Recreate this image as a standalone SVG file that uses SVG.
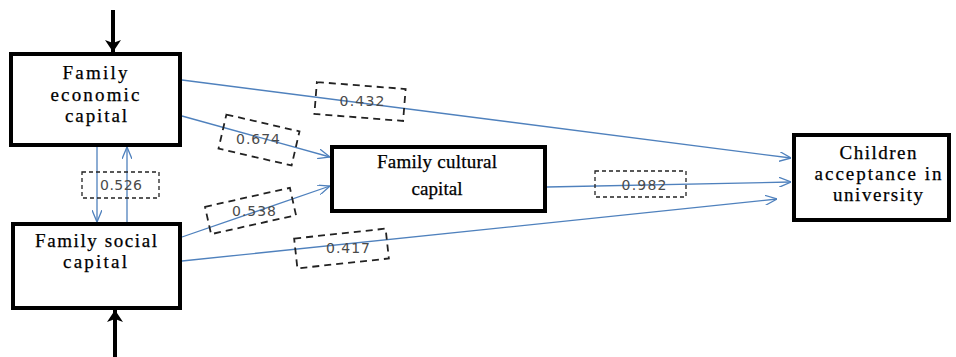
<svg xmlns="http://www.w3.org/2000/svg" width="956" height="357" viewBox="0 0 956 357">
<style>
.box{fill:#fff;stroke:#000;stroke-width:4}
.lbl{font-family:"Liberation Serif","Times New Roman",serif;font-size:19px;fill:#000;stroke:#000;stroke-width:0.25;text-anchor:middle}
.num{font-family:"DejaVu Sans",Verdana,sans-serif;font-size:14px;fill:#4a4a4a;text-anchor:middle}
.dash{fill:none;stroke:#222;stroke-width:1.8;stroke-dasharray:7 5}
.dash2{fill:none;stroke:#222;stroke-width:1.3;stroke-dasharray:4 3}
.blue{fill:none;stroke:#4F81BD;stroke-width:1.3}
.blk{fill:none;stroke:#000;stroke-width:4}
</style>
<defs>
<marker id="oa" viewBox="0 0 12 10" refX="12" refY="5" markerWidth="12" markerHeight="10" orient="auto" markerUnits="userSpaceOnUse">
<path d="M0,0 L12,5 L0,10" fill="none" stroke="#4F81BD" stroke-width="1.3"/>
</marker>
<marker id="ba" viewBox="0 0 12 16" refX="12" refY="8" markerWidth="12" markerHeight="16" orient="auto" markerUnits="userSpaceOnUse">
<path d="M0,0 L12,8 L0,16 L3,8z" fill="#000"/>
</marker>
</defs>
<g id="connectors">
<line class="blk" x1="113" y1="10" x2="113" y2="52" marker-end="url(#ba)"/>
<line class="blk" x1="115" y1="357" x2="115" y2="310" marker-end="url(#ba)"/>
<line class="blue" x1="97" y1="147" x2="97" y2="222" marker-end="url(#oa)"/>
<line class="blue" x1="127" y1="222" x2="127" y2="147" marker-end="url(#oa)"/>
<line class="blue" x1="182" y1="80" x2="791" y2="158" marker-end="url(#oa)"/>
<line class="blue" x1="182" y1="116" x2="330" y2="157" marker-end="url(#oa)"/>
<line class="blue" x1="182" y1="237" x2="330" y2="186" marker-end="url(#oa)"/>
<line class="blue" x1="182" y1="261" x2="777" y2="199" marker-end="url(#oa)"/>
<line class="blue" x1="547" y1="187" x2="791" y2="182" marker-end="url(#oa)"/>
</g>
<g id="lbl-0526">
<rect class="dash2" x="82" y="172" width="77" height="26"/>
<text class="num" x="121" y="190" textLength="42">0.526</text>
</g>
<g id="lbl-0432">
<rect class="dash" x="-44.5" y="-16" width="89" height="32" transform="translate(360,101.5) rotate(4.5)"/>
<text class="num" x="362" y="106" textLength="45">0.432</text>
</g>
<g id="lbl-0674">
<rect class="dash" x="-37.5" y="-17.5" width="75" height="35" transform="translate(259,140) rotate(13)"/>
<text class="num" x="258" y="144" textLength="44">0.674</text>
</g>
<g id="lbl-0538">
<rect class="dash" x="-43.5" y="-14" width="87" height="28" transform="translate(250.5,211) rotate(-12.6)"/>
<text class="num" x="254" y="216" textLength="44">0.538</text>
</g>
<g id="lbl-0417">
<rect class="dash" x="-46" y="-15" width="92" height="30" transform="translate(341.5,248.5) rotate(-6.2)"/>
<text class="num" x="348" y="253" textLength="44">0.417</text>
</g>
<g id="lbl-0982">
<rect class="dash2" x="595" y="171" width="91" height="26"/>
<text class="num" x="644" y="190" textLength="45">0.982</text>
</g>
<g id="economic">
<rect class="box" x="11" y="54" width="169" height="91"/>
<text class="lbl" x="95" y="79" textLength="65" lengthAdjust="spacing">Family</text>
<text class="lbl" x="95" y="101" textLength="89" lengthAdjust="spacing">economic</text>
<text class="lbl" x="96" y="122" textLength="62" lengthAdjust="spacing">capital</text>
</g>
<g id="social">
<rect class="box" x="13" y="224" width="167" height="84"/>
<text class="lbl" x="96" y="247" textLength="122" lengthAdjust="spacing">Family social</text>
<text class="lbl" x="95" y="268" textLength="64" lengthAdjust="spacing">capital</text>
</g>
<g id="cultural">
<rect class="box" x="332" y="147" width="213" height="64"/>
<text class="lbl" x="437" y="168" textLength="120" lengthAdjust="spacing">Family cultural</text>
<text class="lbl" x="437" y="195" textLength="51" lengthAdjust="spacing">capital</text>
</g>
<g id="children">
<rect class="box" x="794" y="135" width="155" height="85"/>
<text class="lbl" x="878" y="159" textLength="77" lengthAdjust="spacing">Children</text>
<text class="lbl" x="878" y="180" textLength="127" lengthAdjust="spacing">acceptance in</text>
<text class="lbl" x="878" y="201" textLength="90" lengthAdjust="spacing">university</text>
</g>
</svg>
